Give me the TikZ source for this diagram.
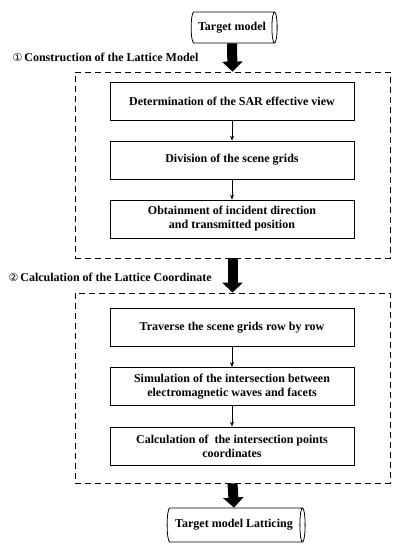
\documentclass[tikz,border=0pt]{standalone}
\usepackage{fontspec}
\setmainfont{Liberation Serif}
\newfontfamily\symfont{DejaVu Sans}
\usetikzlibrary{shapes.geometric,arrows.meta}

\begin{document}
\begin{tikzpicture}[
  x=1pt, y=-1pt,
  font=\fontsize{12}{14}\selectfont\bfseries,
  stepbox/.style={draw, thick, minimum width=244pt, minimum height=38pt, align=center, inner sep=2pt},
  groupbox/.style={draw, thick, dash pattern=on 6pt off 4pt, minimum width=315pt},
  store/.style={draw, thick, cylinder, aspect=0.35, minimum height=86pt, minimum width=31pt, inner sep=2pt},
  bigarrow/.style={line width=10pt, -{Triangle[width=20pt,length=10pt]}},
  thinarrow/.style={-{Stealth[length=5pt,width=4pt]}},
]
\useasboundingbox (0,0) rectangle (402,550);

\node[store] (tm) at (232,27.5) {Target model};
\node[anchor=west] (h1) at (9,57) {{\symfont\fontsize{11}{13}\selectfont\mdseries ①}\,Construction of the Lattice Model};
\node[groupbox, minimum height=186pt] (g1) at (232.5,165) {};
\node[stepbox] (b1) at (232,101) {Determination of the SAR effective view};
\node[stepbox] (b2) at (232,160) {Division of the scene grids};
\node[stepbox] (b3) at (232,219) {Obtainment of incident direction\\and transmitted position};

\node[anchor=west] (h2) at (5,277) {{\symfont\fontsize{11}{13}\selectfont\mdseries ②}\,Calculation of the Lattice Coordinate};
\node[groupbox, minimum height=190pt] (g2) at (232.5,388) {};
\node[stepbox] (b4) at (232,327.5) {Traverse the scene grids row by row};
\node[stepbox] (b5) at (232,386.5) {Simulation of the intersection between\\electromagnetic waves and facets};
\node[stepbox] (b6) at (232,446) {Calculation of \ the intersection points\\coordinates};

\node[store, minimum height=138pt, minimum width=34pt] (tl) at (234,525) {Target model Latticing};

% flow
\draw[bigarrow] (tm.south) -- (g1.north);
\draw[bigarrow] (g1.south) -- (g2.north);
\draw[bigarrow] (g2.south) -- (tl.north);
\draw[thinarrow] (b1) -- (b2);
\draw[thinarrow] (b2) -- (b3);
\draw[thinarrow] (b4) -- (b5);
\draw[thinarrow] (b5) -- (b6);
\end{tikzpicture}
\end{document}
